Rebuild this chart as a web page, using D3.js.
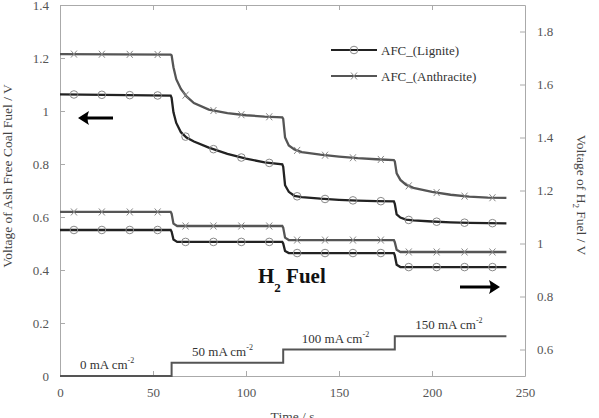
<!DOCTYPE html>
<html>
<head>
<meta charset="utf-8">
<script src="https://cdn.jsdelivr.net/npm/d3@7"></script>
<style>
  body { margin: 0; background: #fff; }
  text { font-family: "Liberation Serif", "Times New Roman", "DejaVu Serif", serif !important; }
  .axis path, .axis line { stroke: #aaa; }
  .axis text { fill: #555; font-size: 13px; }
</style>
</head>
<body>
<div id="container"></div>
<script>
// AFC curves (left axis, V)
const afcTime = [0, 59.5, 60, 61, 62.5, 65, 68, 72, 80, 90, 100, 110, 119.5,
  120, 121, 123, 126, 130, 140, 150, 160, 170, 179.5,
  180, 181, 183, 186, 190, 200, 210, 220, 230, 240];
const ligniteAfc = [1.063, 1.058, 1.05, 0.995, 0.955, 0.92, 0.9, 0.885, 0.862, 0.838, 0.82, 0.806, 0.799,
  0.79, 0.72, 0.695, 0.68, 0.675, 0.669, 0.665, 0.662, 0.66, 0.659,
  0.65, 0.61, 0.598, 0.59, 0.587, 0.583, 0.58, 0.578, 0.577, 0.576];
const anthraciteAfc = [1.215, 1.213, 1.21, 1.165, 1.12, 1.083, 1.055, 1.03, 1.005, 0.992, 0.984, 0.979, 0.976,
  0.97, 0.9, 0.87, 0.855, 0.845, 0.835, 0.828, 0.822, 0.818, 0.815,
  0.81, 0.765, 0.74, 0.722, 0.71, 0.695, 0.684, 0.677, 0.673, 0.672];

// H2 fuel curves (right axis, V)
const h2Time = [0, 59.5, 60, 61, 63, 119.5, 120, 121, 123, 179.5, 180, 181, 183, 240];
const ligniteH2 = [1.051, 1.051, 1.045, 1.015, 1.006, 1.006, 1.0, 0.972, 0.964, 0.964, 0.955, 0.92, 0.911, 0.911];
const anthraciteH2 = [1.119, 1.119, 1.113, 1.075, 1.066, 1.066, 1.06, 1.022, 1.013, 1.013, 1.005, 0.976, 0.968, 0.968];

// applied current density steps (mA cm-2)
const stepTime = [0, 60, 60, 120, 120, 180, 180, 240];
const currentDensity = [0, 0, 50, 50, 100, 100, 150, 150];
const currentLabels = ["0", "50", "100", "150"];
const labelTime = [10.7, 71, 130, 191];

const markerTimes = d3.range(7.5, 240, 15);

const W = 599, H = 418;
const margin = { top: 5, right: 74, bottom: 42, left: 60 };
const width = W - margin.left - margin.right;
const height = H - margin.top - margin.bottom;

const svg = d3.select('#container').append('svg')
  .attr('width', W).attr('height', H);
const g = svg.append('g').attr('transform', `translate(${margin.left},${margin.top})`);

const x = d3.scaleLinear().domain([0, 250]).range([0, width]);
const yL = d3.scaleLinear().domain([0, 1.4]).range([height, 0]);
const yR = d3.scaleLinear().domain([0.5, 1.9]).range([height, 0]);
const yI = d3.scaleLinear().domain([0, 1400]).range([height, 0]);

// axes, ticks pointing inward
g.append('g').attr('class', 'axis').attr('transform', `translate(0,${height})`)
  .call(d3.axisBottom(x).tickValues([0, 50, 100, 150, 200, 250]).tickSize(-5).tickPadding(12).tickSizeOuter(0));
g.append('g').attr('class', 'axis')
  .call(d3.axisTop(x).tickValues([50, 100, 150, 200]).tickSize(-5).tickFormat('').tickSizeOuter(0));
g.append('g').attr('class', 'axis')
  .call(d3.axisLeft(yL).tickValues(d3.range(0, 1.41, 0.2)).tickFormat(d => d3.format('~g')(+d.toFixed(1)))
    .tickSize(-5).tickPadding(11).tickSizeOuter(0));
g.append('g').attr('class', 'axis').attr('transform', `translate(${width},0)`)
  .call(d3.axisRight(yR).tickValues(d3.range(0.6, 1.81, 0.2)).tickFormat(d => d3.format('~g')(+d.toFixed(1)))
    .tickSize(-5).tickPadding(12).tickSizeOuter(0));

// axis titles
g.append('text')
  .attr('transform', `translate(${-48},${171}) rotate(-90)`)
  .attr('text-anchor', 'middle').attr('fill', '#444').style('font-size', '13.5px')
  .text('Voltage of Ash Free Coal Fuel / V');
const rt = g.append('text')
  .attr('transform', `translate(${width + 52},${190}) rotate(90)`)
  .attr('text-anchor', 'middle').attr('fill', '#444').style('font-size', '13.5px');
rt.append('tspan').text('Voltage of H');
rt.append('tspan').attr('dy', 4).style('font-size', '9px').text('2');
rt.append('tspan').attr('dy', -4).text(' Fuel / V');
g.append('text')
  .attr('x', width / 2).attr('y', height + 45)
  .attr('text-anchor', 'middle').attr('fill', '#444').style('font-size', '13.5px')
  .text('Time / s');

// current density step line
const stepData = stepTime.map((t, i) => [t, currentDensity[i]]);
g.append('path').datum(stepData)
  .attr('fill', 'none').attr('stroke', '#555').attr('stroke-width', 2)
  .attr('d', d3.line().x(d => x(d[0])).y(d => yI(d[1])));

currentLabels.forEach((lab, i) => {
  const t = g.append('text')
    .attr('x', x(labelTime[i])).attr('y', yI(+lab) - 7)
    .attr('fill', '#333').style('font-size', '13px');
  t.append('tspan').text(lab + ' mA cm');
  t.append('tspan').attr('dy', -6).style('font-size', '8px').text('-2');
});

function drawSeries(times, values, yScale, color, markerType) {
  const data = times.map((t, i) => [t, values[i]]);
  g.append('path').datum(data)
    .attr('fill', 'none').attr('stroke', color).attr('stroke-width', 2.3)
    .attr('d', d3.line().x(d => x(d[0])).y(d => yScale(d[1])));

  // markers sit on the plotted line
  const bis = d3.bisector(d => d[0]).right;
  const pts = markerTimes.map(mt => {
    const j = Math.min(bis(data, mt), data.length - 1);
    const a = data[j - 1], b = data[j];
    const v = a[1] + (b[1] - a[1]) * (mt - a[0]) / (b[0] - a[0]);
    return [x(mt), yScale(v)];
  });
  drawMarkers(pts, markerType);
}

function drawMarkers(pts, type) {
  if (type === 'circle') {
    g.selectAll(null).data(pts).enter().append('circle')
      .attr('cx', d => d[0]).attr('cy', d => d[1]).attr('r', 3.8)
      .attr('fill', 'none').attr('stroke', '#888').attr('stroke-width', 1);
  } else {
    g.selectAll(null).data(pts).enter().append('path')
      .attr('d', d => `M${d[0] - 3},${d[1] - 3.5}L${d[0] + 3},${d[1] + 3.5}M${d[0] - 3},${d[1] + 3.5}L${d[0] + 3},${d[1] - 3.5}`)
      .attr('stroke', '#888').attr('stroke-width', 1);
  }
}

drawSeries(afcTime, anthraciteAfc, yL, '#555', 'x');
drawSeries(afcTime, ligniteAfc, yL, '#222', 'circle');
drawSeries(h2Time, anthraciteH2, yR, '#555', 'x');
drawSeries(h2Time, ligniteH2, yR, '#222', 'circle');

// legend
const legend = [
  { name: 'AFC_(Lignite)', color: '#222', type: 'circle', y: 45 },
  { name: 'AFC_(Anthracite)', color: '#555', type: 'x', y: 71 }
];
legend.forEach(l => {
  g.append('line').attr('x1', 271).attr('x2', 317).attr('y1', l.y).attr('y2', l.y)
    .attr('stroke', l.color).attr('stroke-width', 2.2);
  drawMarkers([[294, l.y]], l.type);
  g.append('text').attr('x', 321).attr('y', l.y + 4.5)
    .attr('fill', '#333').style('font-size', '13px').text(l.name);
});

// H2 Fuel label
const hf = g.append('text').attr('x', 198).attr('y', 278)
  .attr('fill', '#111').style('font-size', '21px').style('font-weight', 'bold');
hf.append('tspan').text('H');
hf.append('tspan').attr('dy', 9).style('font-size', '13px').text('2');
hf.append('tspan').attr('dy', -9).text(' Fuel');

// arrows pointing to each axis
function arrow(x1, x2, y) {
  const dir = Math.sign(x2 - x1);
  g.append('line').attr('x1', x1).attr('x2', x2 - dir * 8).attr('y1', y).attr('y2', y)
    .attr('stroke', '#000').attr('stroke-width', 3);
  g.append('path')
    .attr('d', `M${x2},${y}L${x2 - dir * 11},${y - 7}Q${x2 - dir * 8},${y} ${x2 - dir * 11},${y + 7}Z`)
    .attr('fill', '#000');
}
arrow(53, 18, 113);
arrow(400, 440, 282);
</script>
</body>
</html>
